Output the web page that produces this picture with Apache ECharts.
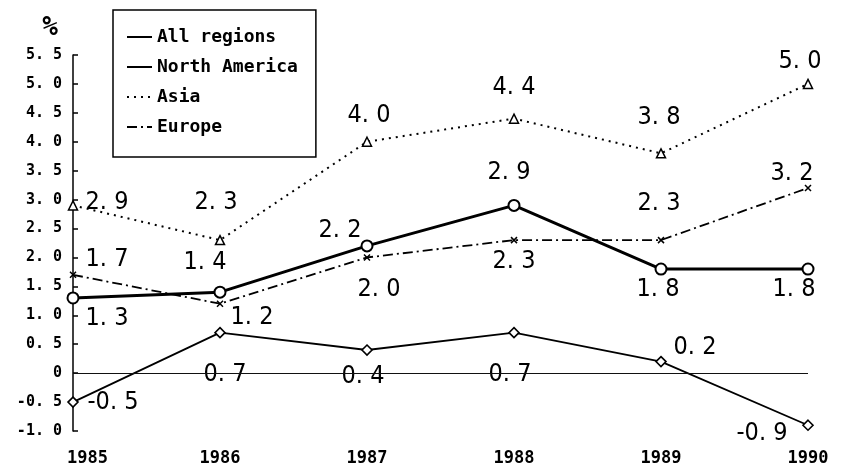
<!DOCTYPE html>
<html>
<head>
<meta charset="utf-8">
<script src="https://cdn.jsdelivr.net/npm/echarts@6/dist/echarts.min.js"></script>
<style>
  html, body { margin: 0; padding: 0; background: #fff; }
  #chart { width: 855px; height: 468px; }
</style>
</head>
<body>
<div id="chart"></div>
<script>
const years = ['1985', '1986', '1987', '1988', '1989', '1990']
const allRegions = [1.3, 1.4, 2.2, 2.9, 1.8, 1.8]
const northAmerica = [-0.5, 0.7, 0.4, 0.7, 0.2, -0.9]
const asia = [2.9, 2.3, 4.0, 4.4, 3.8, 5.0]
const europe = [1.7, 1.2, 2.0, 2.3, 2.3, 3.2]

// label offsets (px from the point), one per year
const allOffsets = [[34, 21], [-15, -30], [-27, -15], [-5, -33], [-3, 20], [-14, 20]]
const naOffsets = [[40, 0], [5, 42], [-4, 26], [-4, 42], [34, -14], [-46, 8]]
const asiaOffsets = [[34, -3], [-4, -38], [2, -26], [0, -31], [-2, -36], [-8, -22]]
const euOffsets = [[34, -15], [32, 14], [12, 32], [0, 21], [-2, -37], [-16, -15]]

const labelFont = '"Liberation Sans Narrow", "DejaVu Sans Condensed", sans-serif'
const monoFont = '"DejaVu Sans Mono", "Liberation Mono", monospace'

const fmt = (v) => v.toFixed(1).replace('.', '. ')

const withLabels = (values, offsets) =>
  values.map((v, i) => ({
    value: v,
    label: {
      show: true,
      position: 'inside',
      offset: offsets[i],
      formatter: () => fmt(v),
      color: '#000',
      fontFamily: labelFont,
      fontSize: 25
    }
  }))

const crossPath = 'path://M0,0 L10,10 M10,0 L0,10'

const chart = echarts.init(document.getElementById('chart'))

const option = {
  animation: false,
  backgroundColor: '#fff',
  grid: {
    left: 73,
    right: 47,
    top: 55,
    bottom: 37
  },
  legend: {
    orient: 'vertical',
    left: 113,
    top: 10,
    padding: [18, 18, 21, 13],
    itemGap: 12,
    itemWidth: 25,
    itemHeight: 14,
    borderColor: '#000',
    borderWidth: 1.5,
    itemStyle: { opacity: 0 },
    textStyle: {
      fontFamily: monoFont,
      fontWeight: 'bold',
      fontSize: 18,
      color: '#000'
    },
    data: ['All regions', 'North America', 'Asia', 'Europe']
  },
  xAxis: {
    type: 'category',
    boundaryGap: false,
    data: years.map((y, i) =>
      i === 0 ? { value: y, textStyle: { align: 'left', padding: [0, 0, 0, -6] } } : y
    ),
    axisLine: { show: false, onZero: false },
    axisTick: { show: false },
    splitLine: { show: false },
    axisLabel: {
      margin: 19,
      color: '#000',
      fontFamily: monoFont,
      fontWeight: 'bold',
      fontSize: 17
    }
  },
  yAxis: {
    type: 'value',
    min: -1,
    max: 5.5,
    interval: 0.5,
    name: '%',
    nameLocation: 'end',
    nameGap: 14,
    nameTextStyle: {
      color: '#000',
      fontSize: 26,
      fontWeight: 'bold',
      fontFamily: monoFont,
      align: 'right',
      padding: [0, 15, 0, 0]
    },
    axisLine: { show: true, lineStyle: { color: '#000', width: 1.5 } },
    axisTick: { show: true, inside: true, length: 5, lineStyle: { color: '#000', width: 1.5 } },
    splitLine: { show: false },
    axisLabel: {
      margin: 11,
      color: '#000',
      fontFamily: monoFont,
      fontWeight: 'bold',
      fontSize: 15,
      formatter: (v) => (v === 0 ? '0' : fmt(v))
    }
  },
  series: [
    {
      name: 'All regions',
      type: 'line',
      data: withLabels(allRegions, allOffsets),
      symbol: 'circle',
      symbolSize: 11,
      lineStyle: { color: '#000', width: 3 },
      itemStyle: { color: '#fff', borderColor: '#000', borderWidth: 2 },
      z: 5,
      markLine: {
        silent: true,
        symbol: 'none',
        label: { show: false },
        lineStyle: { color: '#111', width: 1.2, type: 'solid' },
        data: [{ yAxis: 0 }]
      }
    },
    {
      name: 'North America',
      type: 'line',
      data: withLabels(northAmerica, naOffsets),
      symbol: 'diamond',
      symbolSize: 10,
      lineStyle: { color: '#000', width: 1.8 },
      itemStyle: { color: '#fff', borderColor: '#000', borderWidth: 1.6 }
    },
    {
      name: 'Asia',
      type: 'line',
      data: withLabels(asia, asiaOffsets),
      symbol: 'triangle',
      symbolSize: 9,
      lineStyle: { color: '#000', width: 2, type: [2, 5] },
      itemStyle: { color: '#fff', borderColor: '#000', borderWidth: 1.5 }
    },
    {
      name: 'Europe',
      type: 'line',
      data: withLabels(europe, euOffsets),
      symbol: crossPath,
      symbolSize: 6,
      lineStyle: { color: '#000', width: 1.8, type: [10, 4, 2, 4] },
      itemStyle: { color: '#000', borderColor: '#000', borderWidth: 1.5 }
    }
  ]
}

chart.setOption(option)
</script>
</body>
</html>
